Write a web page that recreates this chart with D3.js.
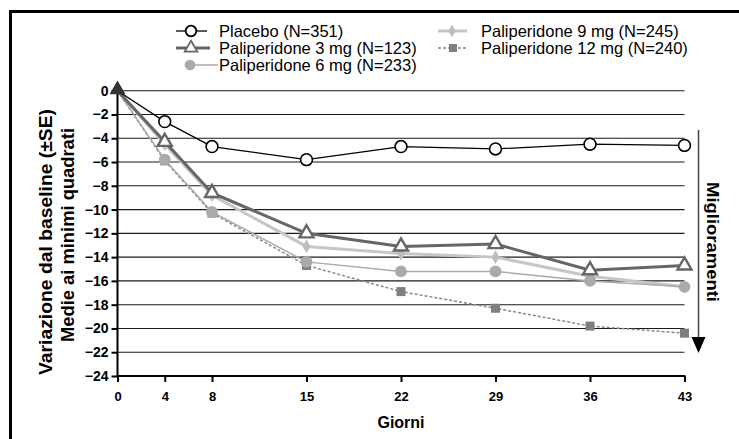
<!DOCTYPE html>
<meta charset="utf-8">
<script src="https://d3js.org/d3.v7.min.js"></script>
<style>
  body { margin: 0; background: #fff; }
  text { font-family: "Liberation Sans", Arial, Helvetica, sans-serif; }
</style>
<div id="chart"></div>
<script>
// days on the x axis and least-squares mean change from baseline
var days = [0, 4, 8, 15, 22, 29, 36, 43];
var placebo = [0, -2.6, -4.7, -5.8, -4.7, -4.9, -4.5, -4.6];
var pali3 = [0, -4.3, -8.6, -12.0, -13.1, -12.9, -15.1, -14.7];
var pali6 = [0, -5.8, -10.2, -14.4, -15.2, -15.2, -16.0, -16.5];
var pali9 = [0, -4.5, -8.8, -13.1, -13.7, -14.0, -15.6, -16.5];
var pali12 = [0, -5.9, -10.3, -14.7, -16.9, -18.3, -19.8, -20.4];
var yTicks = [0, -2, -4, -6, -8, -10, -12, -14, -16, -18, -20, -22, -24];
var labels = ["Placebo (N=351)", "Paliperidone 3 mg (N=123)", "Paliperidone 6 mg (N=233)",
              "Paliperidone 9 mg (N=245)", "Paliperidone 12 mg (N=240)"];

var W = 739, H = 439;
var pL = 117.5, pR = 684.5, pT = 90.7, pB = 376;

var svg = d3.select("#chart").append("svg")
    .attr("width", W)
    .attr("height", H);

// frame (top and left only)
svg.append("path")
    .attr("d", "M10.5," + H + "V11.5H" + W)
    .attr("fill", "none")
    .attr("stroke", "#000")
    .attr("stroke-width", 3);

// x: 0,4,8 at half spacing, then one step per week
var x = d3.scaleLinear()
    .domain([0, 8, 43])
    .range([pL, pL + (pR - pL) / 6, pR]);
var y = d3.scaleLinear()
    .domain([-24, 0])
    .range([pB, pT]);

// gridlines
svg.append("g").selectAll("line")
  .data(yTicks.filter(function(d){ return d > -24; }))
  .enter().append("line")
    .attr("x1", pL).attr("x2", pR)
    .attr("y1", function(d){ return y(d); })
    .attr("y2", function(d){ return y(d); })
    .attr("stroke", "#1a1a1a")
    .attr("stroke-width", 1.1);

// y axis
var yAxis = svg.append("g")
    .attr("transform", "translate(" + pL + ",0)")
    .call(d3.axisLeft(y).tickValues(yTicks).tickSize(6).tickPadding(3).tickFormat(d3.format("d")));
yAxis.select(".domain").attr("stroke-width", 2).attr("d", "M0," + (pB + 1) + "V" + (pT - 6));
yAxis.selectAll(".tick line").attr("stroke-width", 2);
yAxis.selectAll("text")
    .attr("font-size", 14).attr("font-weight", "bold")
    .style("font-family", "Liberation Sans, Arial, sans-serif");

// x axis
var xAxis = svg.append("g")
    .attr("transform", "translate(0," + pB + ")")
    .call(d3.axisBottom(x).tickValues(days).tickSize(6).tickPadding(10).tickFormat(d3.format("d")));
xAxis.select(".domain").attr("stroke-width", 2).attr("d", "M" + (pL - 1) + ",0H" + (pR + 1));
xAxis.selectAll(".tick line").attr("stroke-width", 2);
xAxis.selectAll("text")
    .attr("font-size", 13).attr("font-weight", "bold")
    .style("font-family", "Liberation Sans, Arial, sans-serif");

// axis titles
svg.append("text")
    .attr("x", (pL + pR) / 2).attr("y", 428)
    .attr("text-anchor", "middle")
    .attr("font-size", 16).attr("font-weight", "bold")
    .text("Giorni");

var yTitle = svg.append("g")
    .attr("transform", "translate(0,240) rotate(-90)");
yTitle.append("text")
    .attr("x", -2).attr("y", 52)
    .attr("text-anchor", "middle")
    .attr("font-size", 18).attr("font-weight", "bold")
    .attr("textLength", 266).attr("lengthAdjust", "spacingAndGlyphs")
    .text("Variazione dal baseline (\u00B1SE)");
yTitle.append("text")
    .attr("x", 5).attr("y", 74)
    .attr("text-anchor", "middle")
    .attr("font-size", 18).attr("font-weight", "bold")
    .attr("textLength", 214).attr("lengthAdjust", "spacingAndGlyphs")
    .text("Medie ai minimi quadrati");

// improvement arrow
svg.append("line")
    .attr("x1", 698.5).attr("x2", 698.5)
    .attr("y1", 130).attr("y2", 338)
    .attr("stroke", "#444").attr("stroke-width", 1.5);
svg.append("path")
    .attr("d", "M691.5,337L705.5,337L698.5,353Z")
    .attr("fill", "#000");
svg.append("text")
    .attr("transform", "translate(707,242) rotate(90)")
    .attr("text-anchor", "middle")
    .attr("font-size", 17).attr("font-weight", "bold")
    .attr("textLength", 120).attr("lengthAdjust", "spacingAndGlyphs")
    .text("Miglioramenti");

// series, drawn back to front
var series = [
  {name: labels[4], values: pali12, color: "#888", width: 1.5, dash: "3,2", sym: d3.symbolSquare, size: 81, fill: "#7f7f7f", stroke: "none"},
  {name: labels[3], values: pali9, color: "#c6c6c6", width: 3, dash: null, sym: d3.symbolDiamond, size: 55, fill: "#bdbdbd", stroke: "none"},
  {name: labels[2], values: pali6, color: "#aaa", width: 1.5, dash: null, sym: d3.symbolCircle, size: 110, fill: "#aaa", stroke: "none"},
  {name: labels[1], values: pali3, color: "#666", width: 3, dash: null, sym: d3.symbolTriangle, size: 85, fill: "#fff", stroke: "#666"},
  {name: labels[0], values: placebo, color: "#000", width: 1.3, dash: null, sym: d3.symbolCircle, size: 110, fill: "#fff", stroke: "#000"}
];

var line = d3.line()
    .x(function(d){ return x(d.day); })
    .y(function(d){ return y(d.v); });

series.forEach(function(s) {
  var pts = days.map(function(d, i){ return {day: d, v: s.values[i]}; });
  var g = svg.append("g");
  g.append("path")
      .datum(pts)
      .attr("d", line)
      .attr("fill", "none")
      .attr("stroke", s.color)
      .attr("stroke-width", s.width)
      .attr("stroke-dasharray", s.dash);
  g.selectAll("path.pt")
    .data(pts.slice(1))
    .enter().append("path")
      .attr("class", "pt")
      .attr("transform", function(d){ return "translate(" + x(d.day) + "," + y(d.v) + ")"; })
      .attr("d", d3.symbol().type(s.sym).size(s.size))
      .attr("fill", s.fill)
      .attr("stroke", s.stroke)
      .attr("stroke-width", s.stroke === "none" ? 0 : (s.sym === d3.symbolTriangle ? 2.4 : 1.6));
});

// all series start together at day 0
svg.append("path")
    .attr("transform", "translate(" + x(0) + "," + (y(0) - 1) + ")")
    .attr("d", d3.symbol().type(d3.symbolTriangle).size(110))
    .attr("fill", "#333");

// legend
var legend = [
  {s: series[4], tx: 219, y: 31, mx: 191, lx1: 176, lx2: 207},
  {s: series[3], tx: 219, y: 48, mx: 191, lx1: 176, lx2: 210},
  {s: series[2], tx: 219, y: 65, mx: 190, lx1: 190, lx2: 218},
  {s: series[1], tx: 481, y: 31, mx: 452, lx1: 438, lx2: 467},
  {s: series[0], tx: 481, y: 48, mx: 453, lx1: 438, lx2: 467}
];
var lg = svg.append("g");
legend.forEach(function(l) {
  lg.append("line")
      .attr("x1", l.lx1).attr("x2", l.lx2)
      .attr("y1", l.y).attr("y2", l.y)
      .attr("stroke", l.s.color)
      .attr("stroke-width", l.s.width)
      .attr("stroke-dasharray", l.s.dash);
  lg.append("path")
      .attr("transform", "translate(" + l.mx + "," + l.y + ")")
      .attr("d", d3.symbol().type(l.s.sym).size(l.s.size * 0.8))
      .attr("fill", l.s.fill)
      .attr("stroke", l.s.stroke)
      .attr("stroke-width", l.s.stroke === "none" ? 0 : 1.8);
  lg.append("text")
      .attr("x", l.tx)
      .attr("y", l.y + 5.5)
      .attr("font-size", 16.5)
      .text(l.s.name);
});
</script>
